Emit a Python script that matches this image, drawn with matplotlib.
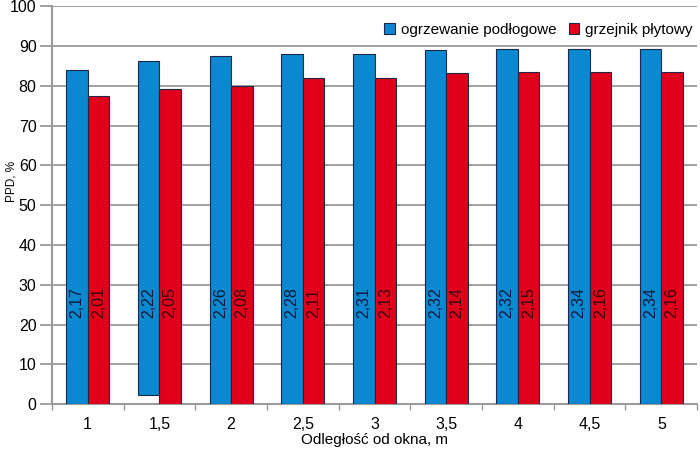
import matplotlib.pyplot as plt
import matplotlib.ticker as mticker
import numpy as np

distances = ["1", "1,5", "2", "2,5", "3", "3,5", "4", "4,5", "5"]
ppd_podlogowe = [84.0, 86.2, 87.4, 88.0, 88.0, 89.0, 89.2, 89.2, 89.2]
ppd_plytowy = [77.4, 79.2, 80.0, 82.1, 82.1, 83.3, 83.4, 83.4, 83.4]
# blue bar at 1,5 does not start at zero in the original
podlogowe_bottom = [0, 2.2, 0, 0, 0, 0, 0, 0, 0]
lbl_podlogowe = ["2,17", "2,22", "2,26", "2,28", "2,31", "2,32", "2,32", "2,34", "2,34"]
lbl_plytowy = ["2,01", "2,05", "2,08", "2,11", "2,13", "2,14", "2,15", "2,16", "2,16"]

plt.rcParams["font.family"] = ["Liberation Sans", "DejaVu Sans"]

blue = "#0a88d0"
red = "#e0001b"
edge = "#1c2848"
grey = "#9a9a9a"

fig = plt.figure(figsize=(7, 4.5), dpi=100)
ax = fig.add_axes([0.074, 0.102, 0.922, 0.884])

x = np.arange(len(distances))
w = 0.30
heights_b = [v - b for v, b in zip(ppd_podlogowe, podlogowe_bottom)]
ax.bar(x - w / 2, heights_b, w, bottom=podlogowe_bottom, color=blue,
       edgecolor=edge, linewidth=0.8, label="ogrzewanie podłogowe", zorder=3)
ax.bar(x + w / 2, ppd_plytowy, w, color=red, edgecolor=edge,
       linewidth=0.8, label="grzejnik płytowy", zorder=3)

for i in range(len(distances)):
    ax.text(x[i] - w / 2, 25.5, lbl_podlogowe[i], rotation=90, ha="center",
            va="center", fontsize=11.5, color="#0c1a3a", zorder=4)
    ax.text(x[i] + w / 2, 25.5, lbl_plytowy[i], rotation=90, ha="center",
            va="center", fontsize=11.5, color="#3a0810", zorder=4)

ax.set_xlim(-0.5, len(distances) - 0.5)
ax.set_ylim(0, 100)
ax.yaxis.set_major_locator(mticker.MultipleLocator(10))
ax.set_xticks(x)
ax.set_xticklabels(distances, fontsize=11.5)
ax.set_xticks(np.arange(-0.5, len(distances), 1), minor=True)
ax.tick_params(axis="x", which="major", length=0, pad=9)
ax.tick_params(axis="x", which="minor", length=4, color=grey, width=1)
ax.tick_params(axis="y", length=9, color=grey, width=1.3, labelsize=11.5, pad=2)

ax.grid(axis="y", color=grey, linewidth=1.3, zorder=0)
for s in ["top", "right"]:
    ax.spines[s].set_visible(False)
for s in ["left", "bottom"]:
    ax.spines[s].set_color(grey)
    ax.spines[s].set_linewidth(1.5)

ax.set_ylabel("PPD, %", fontsize=8.5)
ax.yaxis.set_label_coords(-0.053, 0.56)
ax.set_xlabel("Odległość od okna, m", fontsize=11, labelpad=1)

ax.legend(loc="upper right", bbox_to_anchor=(1.01, 0.985), ncol=2, frameon=False,
          fontsize=11, handlelength=0.7, handleheight=0.7, handletextpad=0.4,
          columnspacing=0.8, borderpad=0.2)

fig.savefig("out.png", dpi=100)
